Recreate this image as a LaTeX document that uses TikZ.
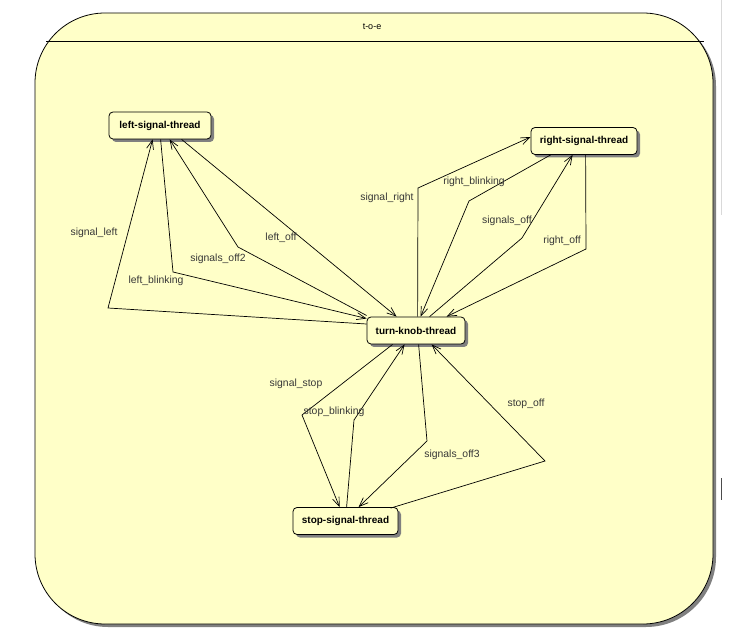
\documentclass[tikz,border=0pt]{standalone}
\usepackage{fontspec}
\setmainfont{Liberation Sans}
\usetikzlibrary{arrows.meta,shadows}
\definecolor{stateyellow}{RGB}{255,255,200}
\definecolor{labelgrey}{RGB}{55,55,55}
\definecolor{shadowgrey}{RGB}{128,128,128}
\tikzset{
  statebox/.style={draw=black, line width=0.8pt, fill=stateyellow, rounded corners=4pt,
    minimum height=27pt, inner sep=0pt, font=\fontsize{10}{12}\selectfont\bfseries,
    drop shadow={shadow xshift=3pt, shadow yshift=-3pt, fill=shadowgrey, opacity=1}},
  trans/.style={draw=black, line width=0.7pt, -{Straight Barb[length=9pt,width=7pt]}},
  translabel/.style={text=labelgrey, font=\fontsize{10.4}{12}\selectfont, inner sep=0pt}
}
\begin{document}
\begin{tikzpicture}[x=1pt,y=-1pt]
\useasboundingbox (0,0) rectangle (729,639);
\fill[white] (0,0) rectangle (729,639);
% window edge on the right
\draw[line width=0.8pt, black!15] (721,0) -- (721,215);
\draw[line width=1pt, black!70] (721,478) -- (721,500);

% composite state t-o-e
\fill[shadowgrey, rounded corners=70pt] (38,16) rectangle (716,627);
\draw[line width=0.8pt, fill=stateyellow, rounded corners=70pt] (35,13) rectangle (713,624);
\draw[line width=0.8pt] (46,41) -- (704,41);
\node[font=\fontsize{9}{10}\selectfont, inner sep=0pt] (title) at (372,27) {t-o-e};

% states
\node[statebox, minimum width=102pt] (ls) at (160,125.5) {left-signal-thread};
\node[statebox, minimum width=106pt] (rs) at (584,141) {right-signal-thread};
\node[statebox, minimum width=98pt]  (tk) at (416,330.5) {turn-knob-thread};
\node[statebox, minimum width=105pt] (ss) at (345.5,521) {stop-signal-thread};

% transitions to and from left-signal-thread
\draw[trans] ([yshift=6.5pt]tk.west) -- (108,308) -- ([xshift=44pt]ls.south west);
\draw[trans] ([xshift=52pt]ls.south west) -- (173,272) -- ([yshift=12pt]tk.west);
\draw[trans] ([yshift=15pt]tk.west) -- (238,247) -- ([xshift=61pt]ls.south west);
\draw[trans] ([xshift=73pt]ls.south west) -- ([xshift=30pt]tk.north west);

% transitions to and from right-signal-thread
\draw[trans] ([xshift=51pt]tk.north west) -- (418,188) -- ([yshift=4pt]rs.west);
\draw[trans] ([xshift=20pt]rs.south west) -- (469,201) -- ([xshift=54pt]tk.north west);
\draw[trans] ([xshift=63pt]tk.north west) -- (522,238) -- ([xshift=42pt]rs.south west);
\draw[trans] ([xshift=55pt]rs.south west) -- (586,249) -- ([xshift=80pt]tk.north west);

% transitions to and from stop-signal-thread
\draw[trans] ([xshift=26pt]tk.south west) -- (302,415) -- ([xshift=47pt]ss.north west);
\draw[trans] ([xshift=54pt]ss.north west) -- (354,420) -- ([xshift=38pt]tk.south west);
\draw[trans] ([xshift=52pt]tk.south west) -- (427,441) -- ([xshift=66pt]ss.north west);
\draw[trans] ([xshift=98pt,yshift=-1pt]ss.north west) -- (545,461) -- ([xshift=65pt]tk.south west);

% transition labels
\node[translabel] (l1)  at (94,233)  {signal\_left};
\node[translabel] (l2)  at (156,281) {left\_blinking};
\node[translabel] (l3)  at (218,259) {signals\_off2};
\node[translabel] (l4)  at (281,238) {left\_off};
\node[translabel] (l5)  at (387,198) {signal\_right};
\node[translabel] (l6)  at (474,182) {right\_blinking};
\node[translabel] (l7)  at (507,221) {signals\_off};
\node[translabel] (l8)  at (562,241) {right\_off};
\node[translabel] (l9)  at (296,384) {signal\_stop};
\node[translabel] (l10) at (334,412) {stop\_blinking};
\node[translabel] (l11) at (452,455) {signals\_off3};
\node[translabel] (l12) at (526,404) {stop\_off};
\end{tikzpicture}
\end{document}
